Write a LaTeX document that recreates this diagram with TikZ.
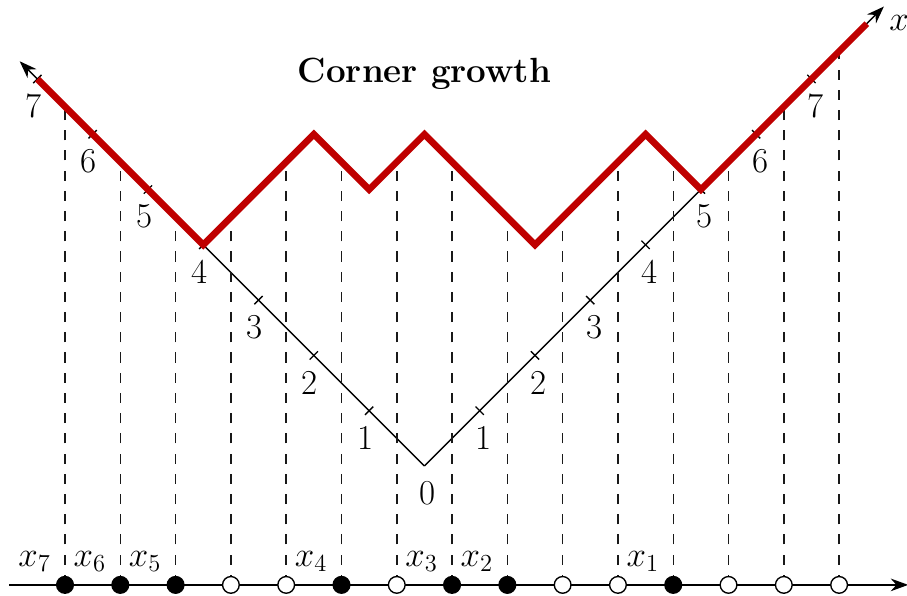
\RequirePackage{fix-cm}
\documentclass[tikz,border=0pt]{standalone}
\usetikzlibrary{arrows.meta,calc}
\definecolor{cred}{RGB}{191,0,0}
\begin{document}
\begin{tikzpicture}[
  font=\fontsize{18}{21.6}\selectfont,
  arrowline/.style={line width=0.7pt,-{Stealth[length=9pt,width=6.5pt]}},
  tickmark/.style={line width=0.7pt},
  guide/.style={line width=0.75pt,dash pattern=on 5.2pt off 5.2pt,black!90},
  growth/.style={line width=3.4pt,cred,line join=miter},
  particle/.style={circle,draw,line width=0.7pt,fill=black,minimum size=8.6pt,inner sep=0pt},
  hole/.style={circle,draw,line width=0.7pt,fill=white,minimum size=8.6pt,inner sep=0pt},
  ticklabel/.style={inner sep=0pt,anchor=center},
  plabel/.style={anchor=base,inner sep=0pt}
]
\useasboundingbox (-7.676,-2.333) rectangle (8.728,8.428);

% axes of the corner
\coordinate (O) at (0,0);
\coordinate (L) at (-7.32,7.32);
\coordinate (R) at (8.31,8.31);
\draw[arrowline] (O) -- (L);
\draw[arrowline] (O) -- (R);

% tick marks and labels
\foreach \k in {1,...,7}{
  \coordinate (tl\k) at (-\k,\k);
  \coordinate (tr\k) at (\k,\k);
  \draw[tickmark] ($(tl\k)+(-0.075,-0.075)$) -- ($(tl\k)+(0.075,0.075)$);
  \draw[tickmark] ($(tr\k)+(-0.075,0.075)$) -- ($(tr\k)+(0.075,-0.075)$);
  \node[ticklabel] (ll\k) at (-\k-0.07,\k-0.49) {\k};
  \node[ticklabel] (rl\k) at (\k+0.07,\k-0.49) {\k};
}
\node[ticklabel] (l0) at (0.05,-0.5) {0};

% bottom axis
\coordinate (axL) at (-7.51,-2.15);
\coordinate (axR) at (8.75,-2.15);
\draw[line width=0.7pt,-{Stealth[length=9pt,width=6.5pt]}] (axL) -- (axR);

% dashed guides and particles
\foreach \x/\h/\s/\i in {-6.5/6.5/particle/1,-5.5/5.5/particle/2,-4.5/4.5/particle/3,
  -3.5/4.5/hole/4,-2.5/5.5/hole/5,-1.5/5.5/particle/6,-0.5/5.5/hole/7,
  0.5/5.5/particle/8,1.5/4.5/particle/9,2.5/4.5/hole/10,3.5/5.5/hole/11,
  4.5/5.5/particle/12,5.5/5.5/hole/13,6.5/6.5/hole/14,7.5/7.5/hole/15}{
  \coordinate (b\i) at (\x,-2.15);
  \coordinate (t\i) at (\x,\h);
  \draw[guide] (b\i) -- (t\i);
}
\foreach \x/\h/\s/\i in {-6.5/6.5/particle/1,-5.5/5.5/particle/2,-4.5/4.5/particle/3,
  -3.5/4.5/hole/4,-2.5/5.5/hole/5,-1.5/5.5/particle/6,-0.5/5.5/hole/7,
  0.5/5.5/particle/8,1.5/4.5/particle/9,2.5/4.5/hole/10,3.5/5.5/hole/11,
  4.5/5.5/particle/12,5.5/5.5/hole/13,6.5/6.5/hole/14,7.5/7.5/hole/15}{
  \node[\s] (p\i) at (b\i) {};
}

% particle labels
\node[plabel] (x7) at (-7.05,-1.81) {$x_7$};
\node[plabel] (x6) at (-6.05,-1.81) {$x_6$};
\node[plabel] (x5) at (-5.05,-1.81) {$x_5$};
\node[plabel] (x4) at (-2.05,-1.81) {$x_4$};
\node[plabel] (x3) at (-0.05,-1.81) {$x_3$};
\node[plabel] (x2) at (0.95,-1.81) {$x_2$};
\node[plabel] (x1) at (3.95,-1.81) {$x_1$};

% growth interface
\coordinate (g0) at (-7,7);
\coordinate (g1) at (-4,4);
\coordinate (g2) at (-2,6);
\coordinate (g3) at (-1,5);
\coordinate (g4) at (0,6);
\coordinate (g5) at (2,4);
\coordinate (g6) at (4,6);
\coordinate (g7) at (5,5);
\coordinate (g8) at (8,8);
\draw[growth] (g0) -- (g1) -- (g2) -- (g3) -- (g4) -- (g5) -- (g6) -- (g7) -- (g8);

% labels
\node[anchor=base west,inner sep=0pt] (xlab) at (8.40,7.868) {$x$};
\node[anchor=base,inner sep=0pt,font=\fontsize{18}{21.6}\selectfont\bfseries] (title) at (0,6.93) {Corner growth};
\end{tikzpicture}
\end{document}
